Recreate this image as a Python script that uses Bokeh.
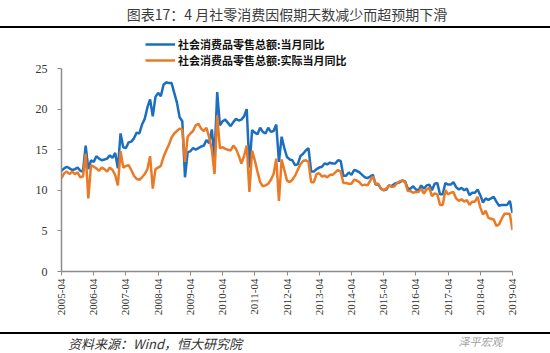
import math
from bokeh.plotting import figure
from bokeh.layouts import column
from bokeh.models import (ColumnDataSource, FixedTicker, Legend, LegendItem, Label, Div)
from bokeh.embed import file_html
from bokeh.resources import INLINE

# ---------------- data ----------------
tick_labels = ["2005-04", "2006-04", "2007-04", "2008-04", "2009-04", "2010-04", "2011-04",
               "2012-04", "2013-04", "2014-04", "2015-04", "2016-04", "2017-04", "2018-04", "2019-04"]

# 社会消费品零售总额:当月同比 (monthly, 2005-04 .. 2019-04)
nominal_yoy = [
    12.4, 12.7, 12.9, 12.7, 12.5, 12.6, 12.8, 12.4, 12.3,                      # 2005 Apr-Dec
    15.5, 12.6, 13.7, 13.5, 14.2, 13.9, 13.7, 13.8, 13.9, 14.3, 14.0, 14.6,    # 2006
    12.7, 17.0, 15.3, 15.2, 15.9, 16.0, 16.4, 17.1, 17.0, 18.1, 18.8, 20.2,    # 2007
    21.2, 19.1, 21.5, 22.0, 21.6, 23.0, 23.3, 23.2, 23.2, 22.0, 20.8, 19.0,    # 2008
    18.5, 11.6, 14.7, 14.8, 15.2, 15.0, 15.2, 15.4, 15.5, 16.2, 15.8, 17.5,    # 2009
    14.0, 22.1, 18.0, 18.5, 18.7, 18.3, 17.9, 18.4, 18.8, 18.6, 18.7, 19.1,    # 2010
    20.0, 12.8, 17.4, 17.1, 16.9, 17.7, 17.2, 17.0, 17.7, 17.2, 17.3, 18.1,    # 2011
    13.5, 16.6, 15.2, 14.1, 13.8, 13.7, 13.1, 13.2, 14.2, 14.5, 14.9, 15.2,    # 2012
    12.3, 12.3, 12.6, 12.8, 12.9, 13.3, 13.2, 13.4, 13.3, 13.3, 13.7, 13.6,    # 2013
    11.8, 11.8, 12.2, 11.9, 12.5, 12.4, 12.2, 11.9, 11.6, 11.5, 11.7, 11.9,    # 2014
    10.7, 10.7, 10.2, 10.0, 10.1, 10.6, 10.5, 10.8, 10.9, 11.0, 11.2, 11.1,    # 2015
    10.2, 10.2, 10.5, 10.1, 10.0, 10.6, 10.2, 10.6, 10.7, 10.0, 10.8, 10.9,    # 2016
    9.5, 9.5, 10.9, 10.7, 10.7, 11.0, 10.4, 10.1, 10.3, 10.0, 10.2, 9.4,       # 2017
    9.7, 9.7, 10.1, 9.4, 8.5, 9.0, 8.8, 9.0, 9.2, 8.6, 8.1, 8.2,               # 2018
    8.2, 8.2, 8.7, 7.2,                                                        # 2019 Jan-Apr
]

# 社会消费品零售总额:实际当月同比
real_yoy = [
    11.5, 12.1, 12.3, 12.0, 12.3, 12.0, 12.2, 11.6, 11.7,
    14.5, 9.0, 13.1, 12.9, 12.7, 12.4, 12.8, 12.6, 12.3, 12.8, 12.5, 11.9,
    10.6, 14.8, 12.8, 13.0, 13.1, 12.5, 11.8, 11.4, 11.3, 11.6, 12.0, 12.6,
    14.2, 10.2, 12.6, 12.8, 13.0, 14.1, 14.9, 15.6, 16.5, 17.0, 17.3, 17.6,
    17.5, 13.5, 16.6, 17.0, 17.3, 18.0, 18.2, 17.6, 17.3, 17.7, 16.5, 15.0,
    12.0, 19.2, 15.2, 15.3, 15.1, 15.0, 14.9, 15.5, 15.1, 14.3, 13.3, 14.2,
    15.5, 9.8, 14.9, 13.7, 12.3, 11.0, 10.5, 10.6, 10.8, 11.3, 12.0, 13.9,
    8.7, 13.8, 12.5, 11.2, 11.0, 11.3, 11.8, 12.5, 13.2, 13.6, 13.7, 13.5,
    11.0, 11.0, 12.0, 12.1, 11.7, 11.8, 11.6, 11.9, 11.9, 12.2, 12.5, 12.3,
    10.9, 10.9, 10.8, 10.8, 11.3, 11.2, 11.0, 10.6, 10.7, 10.6, 11.2, 11.7,
    10.8, 10.8, 10.2, 10.0, 10.2, 10.6, 10.4, 10.5, 10.9, 11.1, 11.2, 11.0,
    9.9, 9.9, 9.7, 9.8, 9.8, 10.2, 9.6, 10.1, 10.3, 9.3, 9.6, 9.5,
    8.2, 8.2, 10.0, 9.5, 9.7, 9.8, 9.0, 8.7, 8.9, 8.6, 8.8, 8.2,
    8.6, 8.6, 9.2, 7.9, 7.0, 7.5, 6.6, 6.5, 6.4, 5.6, 5.8, 6.5,
    7.1, 7.1, 7.1, 5.1,
]

series_names = ["社会消费品零售总额:当月同比", "社会消费品零售总额:实际当月同比"]
title_text = "图表17：4 月社零消费因假期天数减少而超预期下滑"
source_text = "资料来源：Wind，恒大研究院"
watermark_text = "泽平宏观"

BLUE = "#1B6FBE"
ORANGE = "#EB7A26"
W = 550
TITLE_H = 26
RULE_H = 2
MAIN_H = 304
FOOT_H = 353 - TITLE_H - RULE_H - MAIN_H - RULE_H


def blank_fig(height):
    f = figure(width=W, height=height, output_backend="svg", toolbar_location=None,
               x_range=(0, W), y_range=(0, height), min_border=0,
               x_axis_location=None, y_axis_location=None)
    f.grid.visible = False
    f.outline_line_color = None
    f.border_fill_color = "white"
    f.background_fill_color = "white"
    return f


def rule():
    return Div(text="", width=W, height=RULE_H, margin=0,
               styles={"background-color": "#000000", "width": f"{W}px",
                       "height": f"{RULE_H}px"})


# ---------------- header ----------------
head = blank_fig(TITLE_H)
head.add_layout(Label(x=275, y=TITLE_H - 13, text=title_text, text_align="center",
                      text_baseline="middle", text_font="Noto Sans CJK SC",
                      text_font_size="14px", text_color="#3C3C3C"))

# ---------------- main chart ----------------
month_idx = list(range(len(nominal_yoy)))
src = ColumnDataSource(dict(x=month_idx, nominal=nominal_yoy, real=real_yoy))

main_top = TITLE_H + RULE_H        # canvas y where the chart strip starts
frame_bottom = 271
px_per_unit = (271 - 68) / 25.0
p = figure(width=W, height=MAIN_H, output_backend="svg", toolbar_location=None,
           x_range=(0, 168), y_range=(0, (frame_bottom - main_top) / px_per_unit),
           min_border_left=61, min_border_right=38, min_border_top=0,
           min_border_bottom=main_top + MAIN_H - frame_bottom)
p.grid.visible = False
p.outline_line_color = None
p.background_fill_color = "white"
p.border_fill_color = "white"

r1 = p.line("x", "nominal", source=src, line_color=BLUE, line_width=2.5)
r2 = p.line("x", "real", source=src, line_color=ORANGE, line_width=2.5)

p.xaxis.ticker = FixedTicker(ticks=[12 * i for i in range(len(tick_labels))])
p.xaxis.major_label_overrides = {12 * i: lab for i, lab in enumerate(tick_labels)}
p.xaxis.major_label_orientation = math.pi / 2
p.yaxis.ticker = FixedTicker(ticks=[0, 5, 10, 15, 20, 25])
p.yaxis.bounds = (0, 25)
for ax in (p.xaxis, p.yaxis):
    ax.axis_line_color = "#8C8C8C"
    ax.axis_line_width = 1.5
    ax.major_tick_line_color = "#8C8C8C"
    ax.major_tick_in = 0
    ax.major_tick_out = 4
    ax.minor_tick_line_color = None
    ax.major_label_text_font = "Liberation Serif"
    ax.major_label_text_color = "#333333"
p.yaxis.major_label_text_font_size = "12px"
p.xaxis.major_label_text_font_size = "11px"
p.yaxis.major_label_standoff = 10
p.xaxis.major_label_standoff = 3

legend = Legend(items=[LegendItem(label=series_names[0], renderers=[r1]),
                       LegendItem(label=series_names[1], renderers=[r2])],
                location=(84, 203), orientation="vertical",
                glyph_width=30, glyph_height=14, label_height=14, spacing=0,
                padding=0, margin=0, label_standoff=3,
                label_text_font="Noto Sans CJK SC", label_text_font_style="bold",
                label_text_font_size="11px", label_text_color="#111111",
                border_line_color=None, background_fill_alpha=0)
p.add_layout(legend)

# ---------------- footer ----------------
foot = blank_fig(FOOT_H)
foot.add_layout(Label(x=8, y=FOOT_H - 9, text=source_text, text_align="left",
                      text_baseline="middle", text_font="Noto Sans CJK SC",
                      text_font_style="italic", text_font_size="13px", text_color="#333333"))
foot.add_layout(Label(x=484, y=FOOT_H - 6, text=watermark_text, text_align="left",
                      text_baseline="middle", text_font="Noto Sans CJK SC",
                      text_font_style="italic", text_font_size="11px", text_color="#A0A0A0"))

layout = column(head, rule(), p, rule(), foot, spacing=0)
open("out.html", "w").write(file_html(layout, INLINE))
